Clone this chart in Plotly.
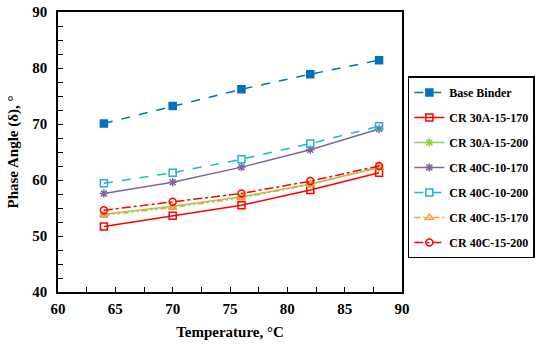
import plotly.graph_objects as go

temperature = [64, 70, 76, 82, 88]

series_names = ["Base Binder", "CR 30A-15-170", "CR 30A-15-200", "CR 40C-10-170",
                "CR 40C-10-200", "CR 40C-15-170", "CR 40C-15-200"]
base_binder = [70.1, 73.2, 76.2, 78.9, 81.4]
cr_30a_15_170 = [51.7, 53.6, 55.5, 58.2, 61.3]
cr_30a_15_200 = [53.9, 55.3, 57.0, 59.3, 62.2]
cr_40c_10_170 = [57.6, 59.6, 62.3, 65.4, 69.1]
cr_40c_10_200 = [59.4, 61.3, 63.7, 66.5, 69.6]
cr_40c_15_170 = [53.7, 55.1, 56.8, 59.2, 62.3]
cr_40c_15_200 = [54.6, 56.1, 57.6, 59.8, 62.5]

values = [base_binder, cr_30a_15_170, cr_30a_15_200, cr_40c_10_170,
          cr_40c_10_200, cr_40c_15_170, cr_40c_15_200]
colors = ["#0070C0", "#FF0000", "#92D050", "#8064A2", "#1FB5D0", "#F79646", "#FF0000"]
dashes = ["dash", "solid", "solid", "solid", "dash", "6px,3px,2px,3px,2px,3px", "dashdot"]
symbols = ["square", "square-open", "asterisk-open", "asterisk-open", "square-open",
           "triangle-up-open", "circle-open"]

FONT = "Liberation Serif"

fig = go.Figure()
for name, y, c, d, s in zip(series_names, values, colors, dashes, symbols):
    fig.add_trace(go.Scatter(
        x=temperature, y=y, name=name, legendgroup=name, mode="lines+markers",
        line=dict(color=c, width=1.5, dash=d),
        marker=dict(symbol=s, size=7, color=c, line=dict(color=c, width=1.5)),
    ))

axis_common = dict(
    showline=True, linecolor="black", linewidth=1.5, mirror=True,
    ticks="inside", ticklen=5, tickcolor="black", tickwidth=1,
    showgrid=False, zeroline=False, automargin=False,
    tickfont=dict(family=FONT, size=15, color="black", weight="bold"),
)

fig.update_xaxes(
    range=[60, 90], dtick=5, tick0=60, ticklabelstandoff=2,
    minor=dict(dtick=2.5, ticks="inside", ticklen=5, tickcolor="black"),
    title=dict(text="Temperature, °C", standoff=11,
               font=dict(family=FONT, size=15, color="black", weight="bold")),
    **axis_common,
)
fig.update_yaxes(
    range=[40, 90], dtick=10, tick0=40, ticklabelstandoff=6,
    minor=dict(dtick=2.5, ticks="inside", ticklen=5, tickcolor="black"),
    title=dict(text="Phase Angle (δ), °", standoff=10,
               font=dict(family=FONT, size=15, color="black", weight="bold")),
    **axis_common,
)

fig.update_layout(
    width=550, height=344,
    margin=dict(l=58, r=148, t=12, b=52, autoexpand=False),
    paper_bgcolor="white", plot_bgcolor="white",
    showlegend=True,
    legend=dict(
        x=1.017, y=0.77, xanchor="left", yanchor="top",
        bordercolor="black", borderwidth=1.5, bgcolor="white",
        font=dict(family=FONT, size=12, color="black", weight="bold"),
        tracegroupgap=6, itemwidth=30,
    ),
)

fig.write_html("out.html", config={"displayModeBar": False},
               post_script="document.body.style.margin='0';")
